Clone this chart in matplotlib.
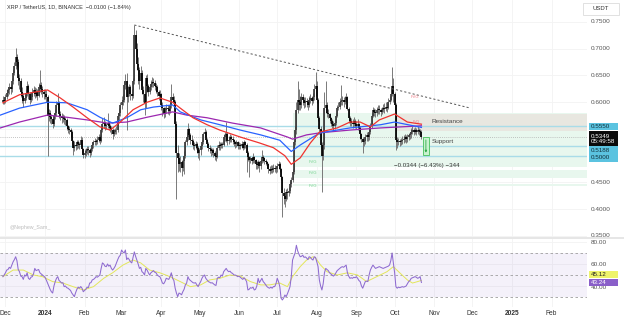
import numpy as np
import pandas as pd
import matplotlib
matplotlib.use("Agg")
import matplotlib.pyplot as plt
from matplotlib.patches import Rectangle
import matplotlib.transforms as mtrans

plt.rcParams['font.family'] = ['Liberation Sans', 'DejaVu Sans']

BASE = pd.Timestamp("2024-01-01")


def day(s):
    return (pd.Timestamp(s) - BASE).days


# ---------------- data (XRP/USDT daily) ----------------
first_date = "2023-11-29"
first_open = 0.600

closes = (
    [0.605, 0.603]
    + [0.610, 0.618, 0.622, 0.628, 0.625, 0.640, 0.655, 0.668, 0.685, 0.675, 0.645, 0.640, 0.620, 0.612, 0.603, 0.608,
       0.618, 0.630, 0.615, 0.605, 0.610, 0.618, 0.622, 0.615, 0.620, 0.612, 0.628, 0.632, 0.625, 0.620, 0.615]
    + [0.615, 0.610, 0.575, 0.580, 0.572, 0.568, 0.560, 0.575, 0.580, 0.595, 0.600, 0.578, 0.575, 0.570, 0.572, 0.568,
       0.566, 0.555, 0.550, 0.548, 0.545, 0.528, 0.515, 0.520, 0.518, 0.525, 0.522, 0.520, 0.530, 0.512, 0.502]
    + [0.505, 0.508, 0.512, 0.510, 0.505, 0.512, 0.520, 0.525, 0.528, 0.526, 0.530, 0.535, 0.528, 0.548, 0.560, 0.562,
       0.555, 0.558, 0.562, 0.555, 0.552, 0.548, 0.540, 0.545, 0.548, 0.548, 0.575, 0.580, 0.595]
    + [0.600, 0.605, 0.632, 0.640, 0.610, 0.622, 0.628, 0.615, 0.612, 0.640, 0.725, 0.700, 0.672, 0.660, 0.640, 0.655,
       0.622, 0.615, 0.598, 0.645, 0.630, 0.620, 0.628, 0.635, 0.638, 0.636, 0.630, 0.628, 0.620, 0.612, 0.615]
    + [0.595, 0.590, 0.578, 0.585, 0.590, 0.588, 0.583, 0.595, 0.610, 0.605, 0.600, 0.560, 0.505, 0.495, 0.485, 0.488,
       0.478, 0.490, 0.500, 0.525, 0.535, 0.550, 0.538, 0.530, 0.528, 0.520, 0.518, 0.522, 0.515, 0.505]
    + [0.510, 0.518, 0.525, 0.540, 0.545, 0.530, 0.522, 0.515, 0.512, 0.508, 0.510, 0.505, 0.500, 0.498, 0.515, 0.520,
       0.518, 0.522, 0.520, 0.535, 0.538, 0.540, 0.528, 0.530, 0.535, 0.532, 0.530, 0.525, 0.522, 0.525, 0.518]
    + [0.520, 0.518, 0.522, 0.515, 0.525, 0.520, 0.505, 0.498, 0.492, 0.495, 0.490, 0.498, 0.492, 0.485, 0.482, 0.488,
       0.480, 0.490, 0.498, 0.495, 0.490, 0.488, 0.484, 0.475, 0.472, 0.476, 0.474, 0.478, 0.476, 0.475]
    + [0.480, 0.485, 0.475, 0.460, 0.430, 0.425, 0.420, 0.432, 0.430, 0.435, 0.448, 0.455, 0.470, 0.525, 0.548, 0.585,
       0.605, 0.600, 0.595, 0.610, 0.605, 0.598, 0.602, 0.600, 0.595, 0.605, 0.608, 0.602, 0.610, 0.625, 0.630]
    + [0.605, 0.570, 0.550, 0.520, 0.500, 0.520, 0.590, 0.595, 0.580, 0.578, 0.570, 0.565, 0.560, 0.555, 0.562, 0.575,
       0.590, 0.592, 0.600, 0.602, 0.605, 0.600, 0.605, 0.610, 0.588, 0.570, 0.565, 0.562, 0.560, 0.565, 0.560]
    + [0.555, 0.560, 0.552, 0.540, 0.532, 0.525, 0.528, 0.535, 0.538, 0.535, 0.545, 0.555, 0.575, 0.585, 0.582, 0.580,
       0.585, 0.588, 0.585, 0.582, 0.586, 0.590, 0.588, 0.592, 0.590, 0.600, 0.605, 0.615, 0.630, 0.615]
    + [0.595, 0.530, 0.525, 0.528, 0.525, 0.528, 0.530, 0.532, 0.535, 0.532, 0.535, 0.538, 0.540, 0.545, 0.548, 0.545,
       0.548, 0.545, 0.548, 0.546, 0.5449, 0.5349]
)

highs = (
    [0.612, 0.610]
    + [0.615, 0.624, 0.628, 0.636, 0.634, 0.646, 0.662, 0.676, 0.701, 0.690, 0.680, 0.652, 0.645, 0.628, 0.618, 0.615,
       0.625, 0.640, 0.635, 0.620, 0.618, 0.626, 0.630, 0.628, 0.626, 0.624, 0.636, 0.660, 0.638, 0.630, 0.625]
    + [0.624, 0.622, 0.614, 0.588, 0.585, 0.578, 0.572, 0.580, 0.588, 0.602, 0.618, 0.602, 0.584, 0.580, 0.578, 0.576,
       0.572, 0.570, 0.558, 0.555, 0.552, 0.548, 0.530, 0.528, 0.526, 0.530, 0.530, 0.526, 0.536, 0.535, 0.515]
    + [0.512, 0.515, 0.518, 0.518, 0.514, 0.516, 0.525, 0.530, 0.534, 0.532, 0.536, 0.540, 0.538, 0.552, 0.570, 0.572,
       0.565, 0.562, 0.580, 0.565, 0.560, 0.556, 0.552, 0.550, 0.552, 0.555, 0.580, 0.590, 0.600]
    + [0.612, 0.615, 0.640, 0.652, 0.655, 0.630, 0.635, 0.632, 0.625, 0.645, 0.744, 0.735, 0.710, 0.685, 0.665, 0.668,
       0.660, 0.630, 0.620, 0.650, 0.652, 0.635, 0.634, 0.642, 0.648, 0.645, 0.642, 0.636, 0.632, 0.622, 0.622]
    + [0.618, 0.600, 0.592, 0.592, 0.596, 0.594, 0.592, 0.600, 0.635, 0.618, 0.612, 0.604, 0.565, 0.520, 0.505, 0.500,
       0.492, 0.498, 0.508, 0.530, 0.545, 0.562, 0.552, 0.542, 0.538, 0.532, 0.525, 0.528, 0.526, 0.518]
    + [0.515, 0.522, 0.530, 0.545, 0.552, 0.548, 0.534, 0.526, 0.520, 0.516, 0.514, 0.514, 0.508, 0.505, 0.520, 0.528,
       0.525, 0.526, 0.525, 0.540, 0.545, 0.563, 0.545, 0.536, 0.540, 0.538, 0.536, 0.532, 0.528, 0.530, 0.528]
    + [0.525, 0.524, 0.528, 0.526, 0.530, 0.528, 0.524, 0.508, 0.500, 0.500, 0.498, 0.505, 0.500, 0.494, 0.490, 0.492,
       0.490, 0.496, 0.510, 0.502, 0.498, 0.494, 0.490, 0.486, 0.480, 0.482, 0.482, 0.484, 0.482, 0.480]
    + [0.486, 0.490, 0.488, 0.478, 0.462, 0.440, 0.432, 0.438, 0.440, 0.442, 0.452, 0.460, 0.475, 0.530, 0.555, 0.600,
       0.640, 0.625, 0.612, 0.618, 0.615, 0.610, 0.610, 0.608, 0.605, 0.612, 0.616, 0.612, 0.618, 0.635, 0.656]
    + [0.640, 0.608, 0.575, 0.555, 0.525, 0.528, 0.620, 0.640, 0.600, 0.588, 0.580, 0.572, 0.568, 0.565, 0.568, 0.580,
       0.595, 0.600, 0.608, 0.632, 0.612, 0.610, 0.612, 0.618, 0.612, 0.592, 0.575, 0.570, 0.568, 0.572, 0.568]
    + [0.565, 0.568, 0.562, 0.555, 0.542, 0.535, 0.532, 0.540, 0.545, 0.542, 0.550, 0.562, 0.580, 0.592, 0.590, 0.588,
       0.592, 0.595, 0.594, 0.590, 0.592, 0.596, 0.598, 0.600, 0.598, 0.608, 0.612, 0.625, 0.666, 0.645]
    + [0.620, 0.598, 0.535, 0.534, 0.532, 0.534, 0.536, 0.538, 0.540, 0.538, 0.540, 0.542, 0.545, 0.552, 0.556, 0.552,
       0.554, 0.552, 0.556, 0.552, 0.550, 0.548]
)

lows = (
    [0.596, 0.597]
    + [0.598, 0.606, 0.612, 0.615, 0.616, 0.620, 0.635, 0.650, 0.662, 0.665, 0.632, 0.625, 0.610, 0.598, 0.592, 0.598,
       0.604, 0.612, 0.606, 0.596, 0.600, 0.605, 0.612, 0.608, 0.610, 0.604, 0.610, 0.620, 0.615, 0.610, 0.606]
    + [0.606, 0.600, 0.500, 0.565, 0.562, 0.560, 0.552, 0.556, 0.568, 0.575, 0.585, 0.570, 0.566, 0.562, 0.564, 0.560,
       0.558, 0.548, 0.542, 0.540, 0.535, 0.520, 0.502, 0.508, 0.510, 0.512, 0.514, 0.512, 0.516, 0.505, 0.495]
    + [0.496, 0.500, 0.504, 0.502, 0.498, 0.502, 0.508, 0.515, 0.520, 0.520, 0.522, 0.526, 0.522, 0.525, 0.545, 0.552,
       0.548, 0.550, 0.552, 0.548, 0.545, 0.540, 0.532, 0.536, 0.540, 0.540, 0.545, 0.565, 0.575]
    + [0.588, 0.595, 0.600, 0.625, 0.548, 0.600, 0.612, 0.605, 0.604, 0.608, 0.635, 0.685, 0.660, 0.635, 0.625, 0.630,
       0.615, 0.600, 0.576, 0.590, 0.620, 0.612, 0.615, 0.622, 0.628, 0.628, 0.622, 0.618, 0.612, 0.605, 0.606]
    + [0.585, 0.575, 0.570, 0.572, 0.580, 0.578, 0.576, 0.580, 0.590, 0.598, 0.592, 0.555, 0.420, 0.470, 0.472, 0.470,
       0.462, 0.472, 0.466, 0.495, 0.520, 0.530, 0.532, 0.522, 0.520, 0.512, 0.510, 0.512, 0.505, 0.496]
    + [0.492, 0.502, 0.512, 0.522, 0.535, 0.525, 0.516, 0.508, 0.505, 0.500, 0.502, 0.498, 0.492, 0.490, 0.495, 0.510,
       0.510, 0.514, 0.514, 0.518, 0.528, 0.525, 0.520, 0.522, 0.526, 0.526, 0.522, 0.518, 0.515, 0.516, 0.512]
    + [0.512, 0.512, 0.514, 0.510, 0.512, 0.515, 0.470, 0.490, 0.460, 0.486, 0.484, 0.486, 0.486, 0.476, 0.476, 0.478,
       0.470, 0.476, 0.486, 0.488, 0.484, 0.482, 0.478, 0.468, 0.465, 0.468, 0.468, 0.470, 0.470, 0.468]
    + [0.470, 0.475, 0.470, 0.455, 0.385, 0.410, 0.405, 0.415, 0.420, 0.425, 0.430, 0.442, 0.450, 0.465, 0.520, 0.540,
       0.580, 0.585, 0.585, 0.590, 0.595, 0.590, 0.592, 0.592, 0.585, 0.592, 0.598, 0.595, 0.598, 0.605, 0.612]
    + [0.598, 0.565, 0.540, 0.512, 0.432, 0.492, 0.512, 0.580, 0.572, 0.570, 0.562, 0.555, 0.552, 0.546, 0.550, 0.558,
       0.572, 0.585, 0.588, 0.595, 0.595, 0.592, 0.596, 0.600, 0.585, 0.562, 0.555, 0.555, 0.552, 0.556, 0.552]
    + [0.550, 0.548, 0.545, 0.532, 0.525, 0.505, 0.518, 0.522, 0.528, 0.528, 0.530, 0.540, 0.552, 0.572, 0.575, 0.572,
       0.575, 0.578, 0.578, 0.575, 0.578, 0.582, 0.580, 0.584, 0.582, 0.588, 0.596, 0.602, 0.612, 0.600]
    + [0.585, 0.510, 0.515, 0.520, 0.518, 0.520, 0.522, 0.524, 0.526, 0.524, 0.526, 0.530, 0.532, 0.534, 0.540, 0.538,
       0.540, 0.538, 0.540, 0.538, 0.538, 0.532]
)

rsi = (
    [48.5, 50]
    + [52, 54.5, 55, 57, 56, 59, 62, 64, 66.6, 63, 55, 53, 49, 48.5, 46, 50, 49, 52, 47, 46, 48, 48.5, 51, 56, 54,
       54.5, 55, 52, 51, 50, 49]
    + [48, 45.5, 42.7, 40, 37, 34.8, 33.6, 40, 44, 47, 48.5, 45, 44, 42.7, 43, 39.4, 40, 38.5, 38, 37, 36, 33.6, 32,
       30.3, 34, 37, 39, 38, 39.5, 38, 34.8]
    + [36, 37, 39, 38.5, 42.7, 43, 45.5, 46, 47, 48.5, 48, 49, 50, 56, 61, 60, 58, 57.6, 60, 58, 59, 56, 54.5, 56,
       58, 61, 64, 66.6, 68]
    + [72.7, 71, 70, 72.7, 64, 65.5, 64, 62, 61, 66, 71, 67, 63.6, 60, 56, 57, 53, 52, 50, 56, 54.5, 52, 50, 52, 53,
       54, 52.5, 52, 50, 49, 48.5]
    + [46, 42.7, 42, 44, 47, 46.5, 46, 48.5, 52, 47, 45, 38, 33.6, 30.3, 33.6, 33, 32, 34.8, 37, 41, 42.7, 48.5, 46,
       45, 44, 43, 42.7, 43, 41, 39.4]
    + [42, 44, 47, 49, 50, 47, 45.5, 44, 43.5, 42.7, 43, 42, 41, 40.5, 47, 48, 47.5, 50, 49, 53, 54.5, 56, 54, 53,
       53.5, 52, 51.5, 50, 50, 49.5, 48.5]
    + [49, 48, 47, 46, 47.5, 46, 44, 36.4, 37, 38.5, 38, 39, 36.4, 37, 40, 47, 43, 45, 47, 44, 42.7, 41, 39.4, 38.5,
       38, 39, 38, 39.5, 39.4, 42]
    + [47, 44, 39.4, 29, 27.3, 29, 31.8, 30.3, 33, 36, 39.4, 48.5, 63.6, 67, 70, 77, 72, 69, 66.6, 67, 68, 66, 66.5,
       65.5, 64, 66.6, 66, 64.5, 63.6, 66.6, 66]
    + [62, 57.6, 45.5, 40, 36.4, 42, 52, 56, 55, 54, 52, 51, 50, 49, 50, 52, 54, 55, 56, 57, 57.6, 57, 58, 59, 52,
       49, 47, 47.5, 47, 48, 47.5]
    + [48.5, 47, 45, 44, 40, 38, 41, 44, 44.5, 44, 50, 54.5, 57, 59, 57.5, 56, 56.5, 57, 57.6, 57, 56.5, 56, 56.5, 57,
       57.6, 58, 59, 63, 70, 61]
    + [52, 39.4, 38, 39, 38.5, 39, 39.4, 39, 39.4, 40, 42, 44, 45, 47, 47.5, 48, 48.5, 48, 47, 47.5, 48.5, 43.24]
)

# RSI moving average (yellow), sampled along the curve: day offset from 2024-01-01
rsi_ma_days = [-33, -25, -17, -9, -2, 6, 14, 22, 30, 38, 46, 53, 61, 69, 75, 82, 90, 98, 106, 114, 122, 129, 137,
               145, 153, 161, 169, 176, 184, 190, 194, 200, 205, 210, 212, 216, 221, 229, 237, 245, 252, 260, 268,
               273, 278, 284, 288, 292, 295]
rsi_ma = [48.5, 54.5, 54.5, 50, 48.5, 44, 42.7, 39.4, 36.4, 39.4, 47, 52, 59, 63.6, 61, 54.5, 52, 48.5, 44, 39.4,
          41, 45.5, 47, 50, 49, 44, 41, 41, 42.7, 39.4, 48.5, 57.6, 63.6, 66.6, 65.5, 59, 53, 50, 52, 50, 44, 48.5,
          53, 57.6, 52, 45.5, 42.7, 44, 45.12]

# moving averages on price (red fast, blue mid, purple slow)
red_days = [-33, -20, 2, 12, 22, 33, 43, 51, 59, 69, 80, 90, 100, 106, 116, 127, 137, 153, 168, 179, 188, 193, 200,
            208, 215, 229, 239, 247, 255, 262, 274, 284, 295]
red_ma = [0.599, 0.614, 0.623, 0.608, 0.591, 0.571, 0.554, 0.548, 0.563, 0.586, 0.600, 0.608, 0.600, 0.589, 0.571,
          0.558, 0.548, 0.535, 0.524, 0.515, 0.500, 0.484, 0.496, 0.524, 0.544, 0.552, 0.563, 0.563, 0.554, 0.567,
          0.578, 0.563, 0.559]
blue_days = [-35, -20, 2, 17, 33, 43, 53, 64, 75, 85, 100, 106, 122, 137, 153, 169, 184, 193, 200, 210, 216, 239,
             263, 274, 295]
blue_ma = [0.576, 0.589, 0.600, 0.599, 0.586, 0.572, 0.561, 0.571, 0.586, 0.591, 0.595, 0.582, 0.567, 0.558, 0.548,
           0.539, 0.529, 0.508, 0.520, 0.535, 0.543, 0.552, 0.558, 0.563, 0.553]
purple_days = [-35, -20, 2, 17, 33, 49, 64, 80, 100, 111, 127, 147, 169, 190, 194, 205, 216, 239, 263, 295]
purple_ma = [0.552, 0.563, 0.576, 0.572, 0.567, 0.561, 0.563, 0.572, 0.582, 0.576, 0.571, 0.561, 0.552, 0.535, 0.531,
             0.539, 0.543, 0.548, 0.552, 0.556]

last_price = 0.5349
levels = [0.5550, 0.5188, 0.5000]
resistance_zone = (0.5463, 0.5780)
fvg_zones = [(0.4790, 0.5799), (0.4584, 0.4733), (0.4443, 0.4467)]
fvg_bear = (0.6090, 0.6106)
trend_dates = ["2024-03-11", "2024-11-29"]
trend_prices = [0.7444, 0.5893]
move_from, move_to = 0.5349, 0.5005

month_dates = ["2023-12-01", "2024-01-01", "2024-02-01", "2024-03-01", "2024-04-01", "2024-05-01", "2024-06-01",
               "2024-07-01", "2024-08-01", "2024-09-01", "2024-10-01", "2024-11-01", "2024-12-01", "2025-01-01",
               "2025-02-01"]
month_labels = ["Dec", "2024", "Feb", "Mar", "Apr", "May", "Jun", "Jul", "Aug", "Sep", "Oct", "Nov", "Dec", "2025",
                "Feb"]
price_ticks = [0.75, 0.70, 0.65, 0.60, 0.55, 0.50, 0.45, 0.40, 0.35]
price_tick_labels = [0.75, 0.70, 0.65, 0.60, 0.45, 0.40, 0.35]   # 0.55 / 0.50 sit under the level tags
rsi_ticks = [80, 60, 40]

# ---------------- figure ----------------
W, H = 624, 323
fig = plt.figure(figsize=(W / 100, H / 100), dpi=100)
fig.patch.set_facecolor("white")


def fx(px):
    return px / W


def fy(py):
    return 1 - py / H


ax = fig.add_axes([0, fy(237), fx(587), fy(0) - fy(237)])
ax2 = fig.add_axes([0, fy(307), fx(587), fy(238) - fy(307)])
XL = (-35.27, 424.76)
for a in (ax, ax2):
    a.set_xlim(*XL)
    a.set_autoscale_on(False)
    a.axis("off")
ax.set_ylim(0.34813, 0.79112)
ax2.set_ylim(20.91, 83.64)

mx = [day(d) for d in month_dates]
for a in (ax, ax2):
    for m in mx:
        a.axvline(m, color="#f3f3f3", lw=0.6, zorder=0)
for p in price_ticks:
    ax.axhline(p, color="#f3f3f3", lw=0.6, zorder=0)
for r in [80, 60, 40, 20]:
    ax2.axhline(r, color="#f3f3f3", lw=0.6, zorder=0)

# zones
x_res = day("2024-10-01")
x_fvg = day("2024-07-13")
for lo_, hi_ in fvg_zones:
    ax.add_patch(Rectangle((x_fvg, lo_), XL[1] - x_fvg, hi_ - lo_, fc="#e8f7ee", ec="none", zorder=0.5))
ax.add_patch(Rectangle((x_res, fvg_bear[0]), XL[1] - x_res, fvg_bear[1] - fvg_bear[0], fc="#fbe3e5", ec="none",
                       zorder=0.5))
ax.add_patch(Rectangle((x_res, resistance_zone[0]), XL[1] - x_res, resistance_zone[1] - resistance_zone[0],
                       fc="#e8e7e0", ec="none", zorder=0.6))
for lv in levels:
    ax.axhline(lv, color="#a9dce8", lw=1.0, zorder=1)
ax.axhline(last_price, color="#b0b0b0", lw=0.6, ls=(0, (1, 1.5)), zorder=1)

# candles
dates = pd.date_range(first_date, periods=len(closes), freq="D")
x = np.asarray((dates - BASE).days, dtype=float)
c = np.array(closes)
o = np.array([first_open] + closes[:-1])
hi = np.maximum(np.array(highs), np.maximum(o, c))
lo = np.minimum(np.array(lows), np.minimum(o, c))
up = c >= o
ax.vlines(x, lo, hi, colors="#707070", lw=0.65, zorder=3)
ax.vlines(x[up], o[up], c[up], colors="#3a3a3a", lw=1.25, zorder=4)
ax.vlines(x[~up], c[~up], o[~up], colors="#000000", lw=1.25, zorder=4)

# moving averages
ax.plot(purple_days, purple_ma, color="#9c27b0", lw=0.9, zorder=5)
ax.plot(blue_days, blue_ma, color="#2962ff", lw=0.9, zorder=5)
ax.plot(red_days, red_ma, color="#f0332f", lw=0.9, zorder=5)

# trendline
ax.plot([day(d) for d in trend_dates], trend_prices, color="#555555", lw=0.7, ls=(0, (2.2, 2.2)), zorder=5)

# labels in chart
ax.text(day("2024-10-30"), 0.5631, "Resistance", fontsize=4.6, color="#444", va="center", zorder=6)
ax.text(day("2024-10-30"), 0.5257, "Support", fontsize=4.6, color="#444", va="center", zorder=6)
ax.text(day("2024-10-26"), 0.4827, "\u22120.0344 (\u22126.43%) \u2212344", fontsize=4.4, color="#333", ha="center",
        va="center", zorder=6)
fvg_lbl_x = day("2024-07-29")
for yv in [0.4883, 0.4678, 0.4435]:
    ax.text(fvg_lbl_x, yv, "FVG", fontsize=3.0, color="#74d38e", ha="center", va="center", zorder=6)
ax.text(day("2024-10-17"), 0.6098, "FVG", fontsize=3.0, color="#f07c85", ha="center", va="center", zorder=6)
ax.text(day("2024-10-18"), 0.5631, "FVG", fontsize=2.6, color="#f07c85", ha="center", va="center", zorder=6)

# measure box with arrow
m0, m1 = day("2024-10-23"), day("2024-10-28")
ax.add_patch(Rectangle((m0, move_to), m1 - m0, move_from - move_to, fc="#c9f2cf", ec="#45c05a", lw=0.6, zorder=6))
ax.annotate("", xy=((m0 + m1) / 2, move_to), xytext=((m0 + m1) / 2, move_from),
            arrowprops=dict(arrowstyle="-|>", color="#2fa84a", lw=0.6, mutation_scale=3), zorder=7)

# RSI panel
ax2.axhspan(30, 70, color="#7e57c2", alpha=0.08, lw=0, zorder=0.5)
for r in [70, 50, 30]:
    ax2.axhline(r, color="#9e9e9e", lw=0.6, ls=(0, (3, 3)), zorder=1)
ax2.plot(rsi_ma_days, rsi_ma, color="#e3e65a", lw=0.7, zorder=2)
ax2.plot(x, rsi, color="#8e6bd0", lw=0.75, zorder=3)


# ---------------- right scale labels ----------------
def tag(axis, y, text, fc, tc, h_px=7.6, w_px=29, fs=4.5):
    tr = mtrans.blended_transform_factory(fig.transFigure, axis.transData)
    y0, y1 = axis.get_ylim()
    ppx = (y1 - y0) / (axis.get_position().height * H)
    axis.add_patch(Rectangle((fx(588.5), y - h_px * ppx / 2), fx(w_px), h_px * ppx, transform=tr, fc=fc, ec="none",
                             clip_on=False, zorder=20))
    axis.text(fx(590.5), y, text, transform=tr, fontsize=fs, color=tc, va="center", ha="left", zorder=21,
              linespacing=1.15)


trp = mtrans.blended_transform_factory(fig.transFigure, ax.transData)
for p in price_tick_labels:
    ax.text(fx(591), p, f"{p:.4f}", transform=trp, fontsize=4.6, color="#555", va="center", ha="left")
trr = mtrans.blended_transform_factory(fig.transFigure, ax2.transData)
for r in rsi_ticks:
    ax2.text(fx(591), r + (1.2 if r == 40 else 0), f"{r:.2f}", transform=trr, fontsize=4.6, color="#555",
             va="center" if r != 40 else "top", ha="left")

tag(ax, 0.5545, "0.5550", "#5bc3e0", "#10303a")
tag(ax, 0.5313, "0.5349\n05:49:58", "#0b0b0b", "#ffffff", h_px=16)
tag(ax, 0.5107, "0.5188", "#5bc3e0", "#10303a")
tag(ax, 0.4962, "0.5000", "#5bc3e0", "#10303a")
tag(ax2, 50.4, "45.12", "#eef36b", "#222222")
tag(ax2, 43.24, "43.24", "#8a5fc9", "#ffffff")

# separator between panes
fig.add_artist(Rectangle((0, fy(239.2)), 1, fy(236.6) - fy(239.2), transform=fig.transFigure, fc="#e6e6e6",
                         ec="none", zorder=30))

# time axis labels
trx = mtrans.blended_transform_factory(ax2.transData, fig.transFigure)
for m, lab in zip(mx, month_labels):
    bold = lab.isdigit()
    ax2.text(m, fy(313.5), lab, transform=trx, fontsize=4.8, color="#333", ha="center", va="center",
             fontweight="bold" if bold else "normal", clip_on=False)

# header / watermark
fig.text(fx(7), fy(7.5), "XRP / TetherUS, 1D, BINANCE  \u22120.0100 (\u22121.84%)", fontsize=4.0, color="#333",
         va="center", ha="left")
fig.add_artist(Rectangle((fx(583), fy(14.5)), fx(36), fy(2.5) - fy(14.5), transform=fig.transFigure, fc="white",
                         ec="#dcdcdc", lw=0.6))
fig.text(fx(601), fy(8.5), "USDT", fontsize=4.3, color="#333", va="center", ha="center")
fig.text(fx(10), fy(228), "@Nephew_Sam_", fontsize=3.8, color="#bdbdbd", va="center", ha="left")

fig.savefig("out.png", dpi=100)
